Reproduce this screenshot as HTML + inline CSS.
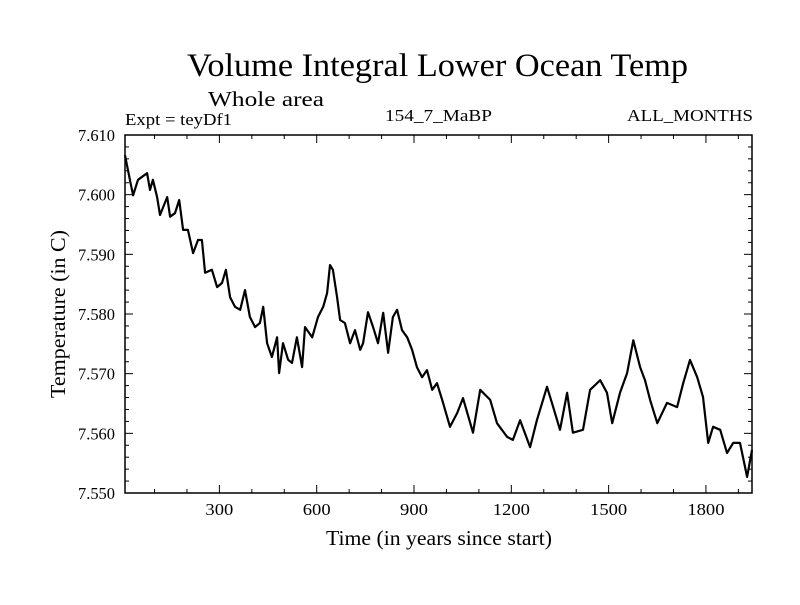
<!DOCTYPE html>
<html><head><meta charset="utf-8"><style>
body{margin:0;background:#fff}
svg text{font-family:"Liberation Serif",serif;fill:#000}
</style></head><body>
<svg id="chart" width="800" height="600" viewBox="0 0 800 600">
<rect width="800" height="600" fill="#fff"/>
<text x="187" y="76" font-size="33" textLength="501" lengthAdjust="spacingAndGlyphs">Volume Integral Lower Ocean Temp</text>
<text x="208" y="106" font-size="21" textLength="116" lengthAdjust="spacingAndGlyphs">Whole area</text>
<text x="125" y="125" font-size="17" textLength="107" lengthAdjust="spacingAndGlyphs">Expt = teyDf1</text>
<text x="385" y="121" font-size="17" textLength="107" lengthAdjust="spacingAndGlyphs">154_7_MaBP</text>
<text x="627" y="121" font-size="17" textLength="126" lengthAdjust="spacingAndGlyphs">ALL_MONTHS</text>
<text x="326" y="545" font-size="21" textLength="226" lengthAdjust="spacingAndGlyphs">Time (in years since start)</text>
<text transform="translate(65,398) rotate(-90)" font-size="21" textLength="168" lengthAdjust="spacingAndGlyphs">Temperature (in C)</text>
<g id="axes"></g>
<g id="plot"></g>
</svg>
<script>
const years=[9,24,34,49,77,86,95,108,117,139,148,163,176,188,203,219,234,246,256,277,293,308,320,333,348,364,379,394,410,425,435,447,462,478,484,496,512,524,539,555,564,586,604,620,632,641,650,663,672,687,703,718,734,743,758,774,789,805,820,835,848,863,879,894,909,925,940,956,971,987,1011,1033,1051,1082,1104,1135,1156,1187,1205,1227,1258,1279,1310,1329,1350,1372,1390,1421,1443,1474,1495,1511,1535,1557,1576,1597,1612,1628,1650,1680,1711,1730,1751,1773,1791,1807,1822,1844,1865,1884,1905,1927,1942];
const temps=[7.6066,7.6025,7.5999,7.6025,7.6036,7.6008,7.6025,7.5996,7.5966,7.5996,7.5963,7.5969,7.5991,7.5941,7.5941,7.5902,7.5924,7.5924,7.5869,7.5874,7.5845,7.5852,7.5874,7.5828,7.5812,7.5807,7.5840,7.5795,7.5778,7.5785,7.5812,7.5751,7.5728,7.5761,7.5701,7.5751,7.5723,7.5718,7.5761,7.5711,7.5778,7.5761,7.5795,7.5812,7.5835,7.5882,7.5874,7.5828,7.5790,7.5785,7.5751,7.5773,7.5740,7.5751,7.5803,7.5778,7.5751,7.5802,7.5735,7.5795,7.5807,7.5773,7.5761,7.5740,7.5711,7.5694,7.5706,7.5673,7.5684,7.5656,7.5611,7.5634,7.5659,7.5601,7.5673,7.5656,7.5617,7.5594,7.5589,7.5622,7.5577,7.5622,7.5678,7.5644,7.5606,7.5668,7.5601,7.5606,7.5673,7.5689,7.5668,7.5617,7.5668,7.5701,7.5756,7.5711,7.5689,7.5656,7.5617,7.5651,7.5644,7.5684,7.5723,7.5694,7.5661,7.5584,7.5611,7.5606,7.5567,7.5584,7.5584,7.5527,7.5572];
const xTicks=[300,600,900,1200,1500,1800];
const yTicks=[7.550,7.560,7.570,7.580,7.590,7.600,7.610];
const yTickLabels=["7.550","7.560","7.570","7.580","7.590","7.600","7.610"];
const X0=9,X1=1942,Y0=7.550,Y1=7.610;
const L=125,R=752,T=135,B=493;
const xs=v=>L+(v-X0)/(X1-X0)*(R-L);
const ys=v=>B-(v-Y0)/(Y1-Y0)*(B-T);
const NS="http://www.w3.org/2000/svg";
const axes=document.getElementById('axes'),plot=document.getElementById('plot');
function mk(tag,attrs,parent){const e=document.createElementNS(NS,tag);for(const k in attrs)e.setAttribute(k,attrs[k]);parent.appendChild(e);return e;}
const frame=mk('rect',{x:L,y:T,width:R-L,height:B-T,fill:'none',stroke:'#000','stroke-width':1.5},axes);


for(let v=100;v<=1900;v+=100){
  const x=xs(v),len=(v%300===0)?8:4;
  const t1=mk('line',{x1:x,x2:x,y1:B,y2:B-len,stroke:'#000'},axes);
  
  
  const t2=mk('line',{x1:x,x2:x,y1:T,y2:T+len,stroke:'#000'},axes);
  
  
}
xTicks.forEach(v=>{
  const s=String(v);
  const t=mk('text',{x:xs(v),y:B+22,'font-size':17,'text-anchor':'middle',textLength:s.length*9.3,lengthAdjust:'spacingAndGlyphs'},axes);t.textContent=s;
  
  
});
for(let i=0;i<=30;i++){
  const v=Y0+i*0.002,y=ys(v),len=(i%5===0)?8:4;
  const a=mk('line',{x1:L,x2:L+len,y1:y,y2:y,stroke:'#000'},axes);
  
  
  const b=mk('line',{x1:R,x2:R-len,y1:y,y2:y,stroke:'#000'},axes);
  
  
}
yTicks.forEach((v,i)=>{
  const t=mk('text',{x:115,y:ys(v)+6,'font-size':17,'text-anchor':'end',textLength:37,lengthAdjust:'spacingAndGlyphs'},axes);t.textContent=yTickLabels[i];
  
  
});
const d=years.map((y,i)=>(i?'L':'M')+xs(y).toFixed(1)+','+ys(temps[i]).toFixed(1)).join('');
const line=mk('path',{d:d,fill:'none',stroke:'#000','stroke-width':2.2,'stroke-linejoin':'round'},plot);


</script>
</body></html>
